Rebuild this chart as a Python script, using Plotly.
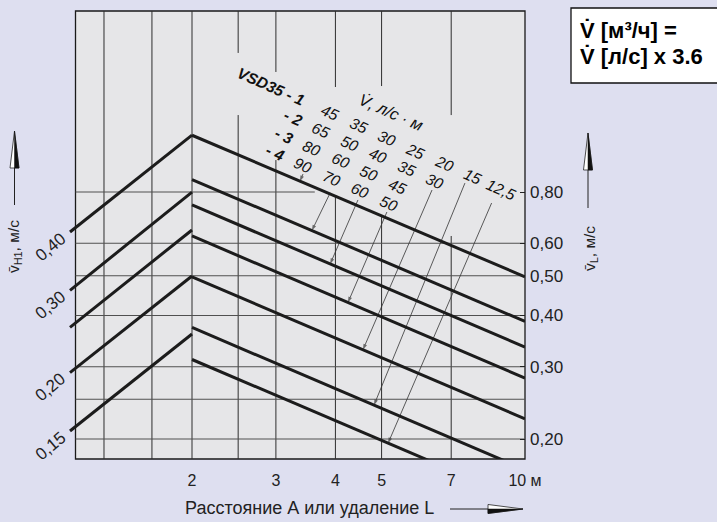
import math
import plotly.graph_objects as go

# ---------------------------------------------------------------------------
# Nomogram data
# ---------------------------------------------------------------------------
# distance A / throw L, m
x_start = 1.109          # left end of the rising (A) lines
x_peak = 2.0             # A = L = 2 m
x_end = 10.0             # right end of the falling (L) lines

# rising lines: v_H1 (left scale, m/s) at x_start and at x_peak
vh1_start = [0.40, 0.30, 0.25, 0.20, 0.15]
vh1_peak = [0.645, 0.487, 0.404, 0.322, 0.242]

# falling lines: v_L (right scale, m/s) at L = 2 m and at L = 10 m
vl_at_2 = [1.10, 0.858, 0.744, 0.625, 0.497, 0.374, 0.3125]
vl_at_10 = [0.497, 0.387, 0.335, 0.2815, 0.224, 0.1685, 0.1408]

# flow rate per metre, l/s·m, one column per falling line; rows = VSD35-1..4
flow_columns = [
    ["45", "65", "80", "90"],
    ["35", "50", "60", "70"],
    ["30", "40", "50", "60"],
    ["25", "35", "45", "50"],
    ["20", "30"],
    ["15"],
    ["12,5"],
]
row_names = ["VSD35 - 1", "- 2", "- 3", "- 4"]

# pointer lines from the flow-rate columns to their falling line
pointer_tail_L = [3.42, 3.90, 4.46, 5.13, 6.38, 7.48, 8.51]
pointer_tail_v = [0.885, 0.796, 0.765, 0.715, 0.809, 0.841, 0.752]
pointer_tip_L = [3.37, 3.57, 3.90, 4.25, 4.57, 4.82, 5.16]

# axis ticks
x_ticks = [2, 3, 4, 5, 7, 10]
x_ticktext = ["2", "3", "4", "5", "7", "10 м"]
vl_ticks = [0.20, 0.30, 0.40, 0.50, 0.60, 0.80]
vl_ticktext = ["0,20", "0,30", "0,40", "0,50", "0,60", "0,80"]
vh1_labels = [0.40, 0.30, 0.20, 0.15]
vh1_labeltext = ["0,40", "0,30", "0,20", "0,15"]

# grid
grid_x = [1.307, 1.648, 2.0, 2.5, 3.0, 4.0, 5.0, 7.0]
grid_x_gaps = {2.5: (1.232, 1.746), 3.0: (0.957, 1.569), 4.0: (0.786, 1.442),
               5.0: (0.695, 1.45), 7.0: (0.625, 1.232)}
grid_v = [0.20, 0.25, 0.30, 0.40, 0.50, 0.60, 0.80]
grid_v_end = {0.80: 3.62}

# ---------------------------------------------------------------------------
# Layout geometry (pixels)
# ---------------------------------------------------------------------------
W, H = 717, 522
L_PX, R_PX, T_PX, B_PX = 66, 525, 11, 459
BORDER_LEFT = 1.139
X_RANGE = [0.03654, 1.0]
Y_RANGE = [-0.74766, 0.34423]
Y2_RANGE = [-0.88381, 0.07509]
Y_TOP = 10 ** Y_RANGE[1]
Y_BOT = 10 ** Y_RANGE[0]


def px(x):
    return (x - L_PX) / (R_PX - L_PX)


def py(y):
    return (B_PX - y) / (B_PX - T_PX)


BG = "#dedff0"
PLOT_BG = "#e6e6e8"
INK = "#1c1c1c"
FONT = "Liberation Sans, Arial, sans-serif"

fig = go.Figure()

# vertical grid lines (some are interrupted behind the labels)
gx, gy = [], []
for xv in grid_x:
    if xv in grid_x_gaps:
        lo, hi = grid_x_gaps[xv]
        gx += [xv, xv, None, xv, xv, None]
        gy += [Y_BOT, lo, None, hi, Y_TOP, None]
    else:
        gx += [xv, xv, None]
        gy += [Y_BOT, Y_TOP, None]
fig.add_trace(go.Scatter(x=gx, y=gy, mode="lines",
                         line=dict(color="#2e2e2e", width=1),
                         hoverinfo="skip", showlegend=False))

# horizontal grid lines
hx, hy = [], []
for v in grid_v:
    hx += [BORDER_LEFT, grid_v_end.get(v, x_end), None]
    hy += [v, v, None]
fig.add_trace(go.Scatter(x=hx, y=hy, mode="lines",
                         line=dict(color="#505050", width=1.2),
                         hoverinfo="skip", showlegend=False))


def on_falling_line(i, L):
    """v_L on falling line i at distance L (straight line in log-log)."""
    t = math.log10(L / x_peak) / math.log10(x_end / x_peak)
    return 10 ** (math.log10(vl_at_2[i]) + t * (math.log10(vl_at_10[i]) - math.log10(vl_at_2[i])))


# pointer lines with arrow heads
for i in range(len(pointer_tip_L)):
    tip_v = on_falling_line(i, pointer_tip_L[i])
    fig.add_trace(go.Scatter(
        x=[pointer_tail_L[i], pointer_tip_L[i]],
        y=[pointer_tail_v[i], tip_v],
        mode="lines+markers",
        line=dict(color="#333333", width=0.8),
        marker=dict(symbol="arrow", size=[0, 6], color="#333333",
                    angleref="previous", line=dict(width=0)),
        hoverinfo="skip", showlegend=False))

# rising lines (left scale)
for a, b in zip(vh1_start, vh1_peak):
    fig.add_trace(go.Scatter(x=[x_start, x_peak], y=[a, b], yaxis="y2",
                             mode="lines", line=dict(color=INK, width=3),
                             hoverinfo="skip", showlegend=False))

# falling lines (right scale)
for a, b in zip(vl_at_2, vl_at_10):
    fig.add_trace(go.Scatter(x=[x_peak, x_end], y=[a, b],
                             mode="lines", line=dict(color=INK, width=3),
                             hoverinfo="skip", showlegend=False))

annotations = []

# left-scale values written at the start of the rising lines
for v, txt in zip(vh1_labels, vh1_labeltext):
    annotations.append(dict(x=px(50), y=math.log10(v), xref="paper", yref="y2",
                            text=txt, showarrow=False, textangle=-40, yshift=-15,
                            font=dict(family=FONT, size=17, color="#222222"),
                            xanchor="center", yanchor="middle"))

# flow-rate table written along the falling lines
ANG = 24
col_step = (28.5, 12.7)
row_step = (-9.0, 17.5)
origin = (330.0, 113.0)
for c, col in enumerate(flow_columns):
    for r, txt in enumerate(col):
        xx = origin[0] + c * col_step[0] + r * row_step[0]
        yy = origin[1] + c * col_step[1] + r * row_step[1]
        annotations.append(dict(x=px(xx), y=py(yy), xref="paper", yref="paper",
                                text=f"<i>{txt}</i>", showarrow=False, textangle=ANG,
                                font=dict(family=FONT, size=15.5, color="#111111"),
                                xanchor="center", yanchor="middle"))
for r, name in enumerate(row_names):
    if r == 0:
        xx, yy = 271.0, 87.0
    else:
        xx = origin[0] - col_step[0] + r * row_step[0]
        yy = origin[1] - col_step[1] + r * row_step[1]
    annotations.append(dict(x=px(xx), y=py(yy), xref="paper", yref="paper",
                            text=f"<b><i>{name}</i></b>", showarrow=False, textangle=ANG,
                            font=dict(family=FONT, size=15.5, color="#111111"),
                            xanchor="center", yanchor="middle"))
annotations.append(dict(x=px(391), y=py(112), xref="paper", yref="paper",
                        text="<i>V\u0307, л/с · м</i>", showarrow=False, textangle=ANG,
                        font=dict(family=FONT, size=16.5, color="#111111"),
                        xanchor="center", yanchor="middle"))

# axis titles
annotations.append(dict(x=px(309), y=py(508), xref="paper", yref="paper",
                        text="Расстояние А или удаление L", showarrow=False,
                        font=dict(family=FONT, size=18, color="#222222"),
                        xanchor="center", yanchor="middle"))
annotations.append(dict(x=px(14), y=py(247), xref="paper", yref="paper",
                        text="v\u0304<sub>H1</sub>, м/с", showarrow=False, textangle=-90,
                        font=dict(family=FONT, size=15.5, color="#222222"),
                        xanchor="center", yanchor="middle"))
annotations.append(dict(x=px(590), y=py(249), xref="paper", yref="paper",
                        text="v\u0304<sub>L</sub>, м/с", showarrow=False, textangle=-90,
                        font=dict(family=FONT, size=15.5, color="#222222"),
                        xanchor="center", yanchor="middle"))

# conversion note
annotations.append(dict(x=px(578), y=py(31), xref="paper", yref="paper",
                        text="<b>V\u0307 [м³/ч] =</b>", showarrow=False,
                        font=dict(family=FONT, size=22, color="#000000"),
                        xanchor="left", yanchor="middle"))
annotations.append(dict(x=px(578), y=py(57), xref="paper", yref="paper",
                        text="<b>V\u0307 [л/с] x 3.6</b>", showarrow=False,
                        font=dict(family=FONT, size=22, color="#000000"),
                        xanchor="left", yanchor="middle"))


def path(points):
    return "M " + " L ".join(f"{px(a):.5f},{py(b):.5f}" for a, b in points) + " Z"


shapes = [
    # plotting field with its frame
    dict(type="rect", xref="paper", yref="paper", x0=px(75.5), x1=1, y0=0, y1=1,
         fillcolor=PLOT_BG, line=dict(color="#1a1a1a", width=1.3), layer="below"),
    # note box
    dict(type="rect", xref="paper", yref="paper", x0=px(571), x1=px(730),
         y0=py(83), y1=py(8), fillcolor="white", line=dict(color="#111111", width=1.3)),
]


def vertical_arrow(xc, tip, base, shaft_end):
    return [
        dict(type="line", xref="paper", yref="paper", x0=px(xc), x1=px(xc),
             y0=py(base), y1=py(shaft_end), line=dict(color="#222222", width=1)),
        dict(type="path", xref="paper", yref="paper",
             path=path([(xc, tip), (xc - 4.5, base), (xc + 4.5, base)]),
             fillcolor="white", line=dict(color="#222222", width=0.8)),
        dict(type="path", xref="paper", yref="paper",
             path=path([(xc, tip), (xc, base), (xc + 4.5, base)]),
             fillcolor="#111111", line=dict(color="#111111", width=0.5)),
    ]


shapes += vertical_arrow(14.5, 131, 168, 205)
shapes += vertical_arrow(588, 133, 170, 208)
# arrow after the x title
shapes += [
    dict(type="line", xref="paper", yref="paper", x0=px(450), x1=px(490),
         y0=py(509), y1=py(509), line=dict(color="#222222", width=1)),
    dict(type="path", xref="paper", yref="paper",
         path=path([(523, 509), (488, 504.5), (488, 513.5)]),
         fillcolor="white", line=dict(color="#222222", width=0.8)),
    dict(type="path", xref="paper", yref="paper",
         path=path([(523, 509), (488, 509), (488, 513.5)]),
         fillcolor="#111111", line=dict(color="#111111", width=0.5)),
]

fig.update_layout(
    width=W, height=H,
    margin=dict(l=L_PX, r=W - R_PX, t=T_PX, b=H - B_PX),
    paper_bgcolor=BG, plot_bgcolor=BG,
    showlegend=False, hovermode=False,
    font=dict(family=FONT, color="#222222"),
    xaxis=dict(type="log", range=X_RANGE, tickvals=x_ticks, ticktext=x_ticktext,
               showgrid=False, zeroline=False, showline=False, ticks="",
               tickfont=dict(size=16, color="#222222"), ticklabelstandoff=10,
               fixedrange=True),
    yaxis=dict(type="log", range=Y_RANGE, side="right", tickvals=vl_ticks,
               ticktext=vl_ticktext, showgrid=False, zeroline=False, showline=False,
               ticks="inside", ticklen=5, tickcolor="#222222",
               tickfont=dict(size=17, color="#222222"), ticklabelstandoff=4,
               fixedrange=True),
    yaxis2=dict(type="log", range=Y2_RANGE, overlaying="y", side="left", anchor="x",
                showticklabels=False, showgrid=False, zeroline=False, showline=False,
                ticks="", fixedrange=True),
    annotations=annotations,
    shapes=shapes,
)

fig.write_html("out.html")
